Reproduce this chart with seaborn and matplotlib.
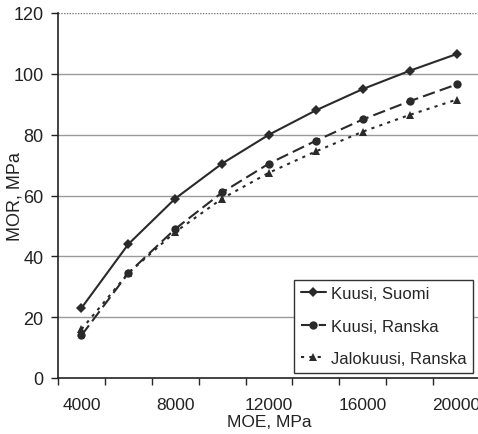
import pandas as pd
import seaborn as sns
import matplotlib.pyplot as plt
from matplotlib.ticker import FixedLocator, NullFormatter

# MOE values (MPa) and read-off MOR values (MPa)
moe = [4000, 6000, 8000, 10000, 12000, 14000, 16000, 18000, 20000]
kuusi_suomi = [23, 44, 59, 70.5, 80, 88, 95, 101, 106.5]
kuusi_ranska = [14, 34.5, 49, 61, 70.5, 78, 85, 91, 96.5]
jalokuusi_ranska = [16, 34.5, 48, 59, 67.5, 74.5, 81, 86.5, 91.5]
series_names = ['Kuusi, Suomi', 'Kuusi, Ranska', 'Jalokuusi, Ranska']

df = pd.DataFrame({
    'MOE': moe * 3,
    'MOR': kuusi_suomi + kuusi_ranska + jalokuusi_ranska,
    'series': [s for s in series_names for _ in moe],
})

sns.set_style('white')
plt.rcParams['font.family'] = ['Liberation Sans', 'DejaVu Sans']

fig = plt.figure(figsize=(4.78, 4.35), dpi=100)
ax = fig.add_axes([58 / 478, 56 / 435, 422 / 478, 365 / 435])

line_col = '#2a2a2a'
sns.lineplot(data=df, x='MOE', y='MOR', hue='series', style='series',
             hue_order=series_names, style_order=series_names,
             palette=[line_col] * 3,
             markers={'Kuusi, Suomi': 'D', 'Kuusi, Ranska': 'o', 'Jalokuusi, Ranska': '^'},
             dashes={'Kuusi, Suomi': '', 'Kuusi, Ranska': (6, 2.5), 'Jalokuusi, Ranska': (1.5, 2.5)},
             markersize=6, markeredgewidth=0, linewidth=1.5, ax=ax)
for ln in ax.lines:
    if ln.get_marker() == 'D':
        ln.set_markersize(5)

ax.set_xlim(3000, 21000)
ax.set_ylim(0, 120)
ax.set_yticks(range(0, 121, 20))
# category-style axis: tick marks between points, labels on every other point
ax.xaxis.set_major_locator(FixedLocator(range(3000, 21001, 2000)))
ax.xaxis.set_major_formatter(NullFormatter())
ax.xaxis.set_minor_locator(FixedLocator(range(4000, 20001, 4000)))
ax.set_xticklabels([str(v) for v in range(4000, 20001, 4000)], minor=True)
ax.tick_params(axis='x', which='minor', length=0, labelsize=12.5, pad=13.5, colors='#222222')
ax.tick_params(axis='x', which='major', length=5, width=1, direction='out', bottom=True)
ax.tick_params(axis='y', length=5, width=1, direction='out', left=True, labelsize=13,
               colors='#222222', pad=5.5)

for y in range(20, 101, 20):
    ax.axhline(y, color='#9a9a9a', lw=1, zorder=0)
ax.axhline(120, color='#777777', lw=1, ls=(0, (1, 1)), zorder=0)

for side in ['top', 'right']:
    ax.spines[side].set_visible(False)
for side in ['left', 'bottom']:
    ax.spines[side].set_color('#222222')
    ax.spines[side].set_linewidth(1.2)

ax.set_xlabel('MOE, MPa', fontsize=12.5, color='#222222', va='center')
ax.set_ylabel('MOR, MPa', fontsize=13, color='#222222', va='center')
ax.xaxis.set_label_coords(0.5, -0.1205)
ax.yaxis.set_label_coords(-0.102, 0.5)

leg = ax.legend(loc='lower right', bbox_to_anchor=(0.983, 0.0137), fontsize=12,
                frameon=True, fancybox=False, edgecolor='#333333', framealpha=1,
                handlelength=1.5, handletextpad=0.3, labelspacing=1.05,
                borderpad=0.4, borderaxespad=0)
leg.get_frame().set_linewidth(1)

fig.savefig('out.png', dpi=100)
